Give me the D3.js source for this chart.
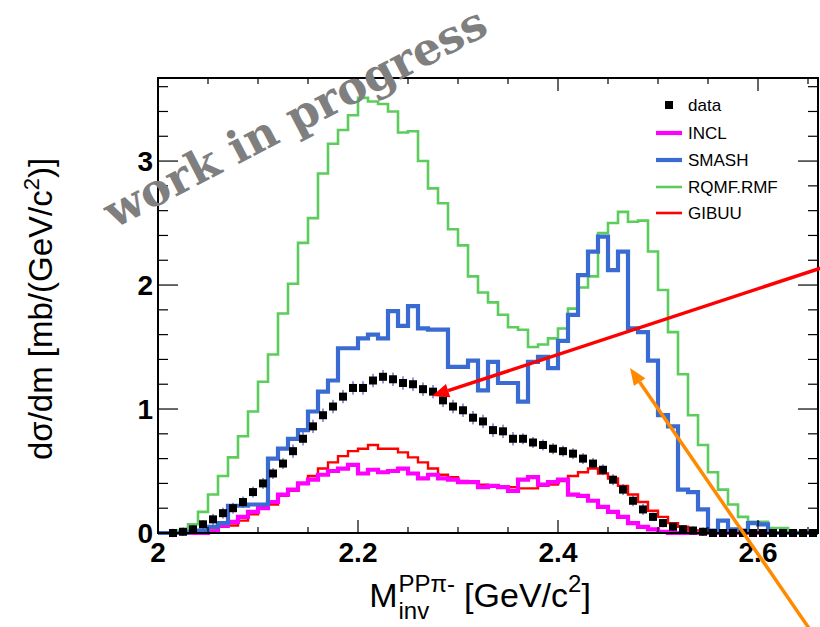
<!DOCTYPE html>
<html><head><meta charset="utf-8">
<script src="https://cdn.jsdelivr.net/npm/d3@7"></script>
<style>html,body{margin:0;padding:0;background:#fff;} svg{display:block;}</style>
</head><body><svg id="c" width="820" height="627"></svg>
<script>
// ---------- data (bins of 0.01 GeV/c^2 from 2.00 to 2.66) ----------
const xMin = 2.00, xMax = 2.66, binWidth = 0.01;
const xTicks = [2, 2.2, 2.4, 2.6];
const xTickLabels = ["2", "2.2", "2.4", "2.6"];
const yTicks = [0, 1, 2, 3];
const yTickLabels = ["0", "1", "2", "3"];
const yMax = 3.67;

const dataVals = [null,0.00,0.01,0.03,0.07,0.11,0.16,0.20,0.25,0.33,
  0.40,0.48,0.56,0.66,0.76,0.86,0.95,1.02,1.10,1.17,
  1.17,1.23,1.26,1.24,1.21,1.20,1.16,1.14,1.07,1.02,
  0.99,0.93,0.90,0.83,0.82,0.76,0.76,0.73,0.71,0.68,
  0.66,0.64,0.60,0.56,0.51,0.43,0.35,0.26,0.19,0.13,
  0.08,0.05,0.03,0.02,0.01,0,0,0,0,0,
  0,0,0,0,0,0];
const dataErr = [0,0.01,0.01,0.01,0.01,0.02,0.02,0.02,0.02,0.02,
  0.02,0.02,0.02,0.03,0.03,0.03,0.03,0.03,0.03,0.03,
  0.03,0.03,0.03,0.03,0.03,0.03,0.03,0.03,0.03,0.03,
  0.03,0.03,0.03,0.03,0.03,0.03,0.02,0.02,0.02,0.02,
  0.02,0.02,0.02,0.02,0.02,0.02,0.02,0.02,0.02,0.01,
  0.01,0.01,0.01,0.01,0.01,0,0,0,0,0,
  0,0,0,0,0,0];
const incl = [0,0,0,0,0,0.01,0.06,0.09,0.13,0.17,
  0.20,0.25,0.31,0.35,0.40,0.43,0.47,0.50,0.52,0.55,
  0.48,0.51,0.49,0.50,0.52,0.48,0.44,0.47,0.44,0.43,
  0.41,0.41,0.37,0.38,0.37,0.34,0.43,0.45,0.39,0.41,
  0.43,0.31,0.30,0.26,0.21,0.17,0.13,0.08,0.05,0.03,
  0.01,0,0,0,0,0,0,0,0,0,
  0,0,0,0,0,0];
const smash = [0,0,0,0.01,0.02,0.05,0.08,0.22,0.22,0.23,
  0.23,0.60,0.68,0.76,0.83,0.98,1.14,1.23,1.49,1.49,
  1.57,1.60,1.57,1.79,1.67,1.83,1.65,1.64,1.64,1.34,
  1.34,1.39,1.15,1.38,1.21,1.21,1.06,1.38,1.42,1.33,
  1.55,1.76,2.08,2.27,2.39,2.12,2.27,1.65,1.62,1.39,
  0.95,0.86,0.35,0.33,0.19,0.02,0.10,0.03,0.02,0.08,
  0.07,0,0,0,0,0];
const rqmf = [0,0,0.02,0.07,0.17,0.31,0.46,0.61,0.78,0.98,
  1.22,1.44,1.77,2.01,2.34,2.54,2.90,3.14,3.25,3.37,
  3.51,3.48,3.46,3.40,3.23,3.24,3.00,2.78,2.66,2.45,
  2.32,2.07,1.94,1.86,1.76,1.66,1.64,1.50,1.52,1.57,
  1.65,1.81,1.98,2.07,2.42,2.50,2.59,2.51,2.52,2.27,
  1.96,1.62,1.28,0.95,0.71,0.49,0.35,0.23,0.13,0.09,
  0.09,0.04,0.04,0.01,0.01,0];
const gibuu = [0,0,0,0,0,0.02,0.05,0.06,0.10,0.15,
  0.22,0.23,0.30,0.34,0.40,0.46,0.52,0.57,0.62,0.66,
  0.68,0.71,0.68,0.68,0.65,0.61,0.57,0.52,0.47,0.45,
  0.42,0.41,0.39,0.38,0.37,0.37,0.36,0.36,0.38,0.39,
  0.42,0.46,0.49,0.52,0.48,0.44,0.38,0.31,0.25,0.18,
  0.13,0.08,0.05,0.02,0.01,0,0,0,0,0,
  0,0,0,0,0,0];

const legendLabels = ["data", "INCL", "SMASH", "RQMF.RMF", "GIBUU"];
// annotation arrows in data coordinates: [x0,y0] -> [x1,y1] (tip)
const arrows = [
  {from:[2.664, 2.14], to:[2.274, 1.105], color:"#ff0000"},
  {from:[2.652, -0.78], to:[2.472, 1.33], color:"#ff8a00"}
];

// ---------- layout ----------
const L = 158, R = 818, T = 78, B = 533;
const svg = d3.select("#c");
const x = d3.scaleLinear().domain([xMin, xMax]).range([L, R]);
const y = d3.scaleLinear().domain([0, yMax]).range([B, T]);
const nBins = incl.length;
const edges = d3.range(nBins + 1).map(i => xMin + i * binWidth);

svg.append("defs").append("clipPath").attr("id","fr")
  .append("rect").attr("x",L).attr("y",T-2).attr("width",R-L).attr("height",B-T+4);

const stepLine = d3.line().x(d => x(d[0])).y(d => y(d[1])).curve(d3.curveStepAfter);
function histPts(vals){
  const pts = vals.map((v,i) => [edges[i], v]);
  pts.push([edges[nBins], vals[nBins-1]]);
  return pts;
}
const series = [
  {vals: rqmf,  color:"#5ccc5c", w:2.6},
  {vals: gibuu, color:"#ff0000", w:2.4},
  {vals: incl,  color:"#ff00ff", w:4.2},
  {vals: smash, color:"#3a6bd2", w:4.2}
];
const gH = svg.append("g").attr("clip-path","url(#fr)");
series.forEach(s => {
  gH.append("path").attr("d", stepLine(histPts(s.vals)))
    .attr("fill","none").attr("stroke", s.color).attr("stroke-width", s.w)
    .attr("stroke-linejoin","miter").attr("stroke-linecap","square");
});

// data points
const pts = dataVals.map((v,i) => ({c: edges[i] + binWidth/2, v, e: dataErr[i]})).filter(d => d.v !== null);
const gD = svg.append("g");
gD.selectAll("line.err").data(pts).enter().append("line")
  .attr("x1", d => x(d.c)).attr("x2", d => x(d.c))
  .attr("y1", d => y(d.v + d.e) - 3).attr("y2", d => y(d.v - d.e) + 3)
  .attr("stroke","#3030b0").attr("stroke-width",1);
gD.selectAll("rect").data(pts).enter().append("rect")
  .attr("x", d => x(d.c) - 4).attr("y", d => y(d.v) - 4)
  .attr("width", 8).attr("height", 8).attr("fill","#000");

// ---------- frame & ticks ----------
svg.append("rect").attr("x",L).attr("y",T).attr("width",R-L).attr("height",B-T)
  .attr("fill","none").attr("stroke","#000").attr("stroke-width",2);

const xMinor = d3.range(0, 14).map(i => 2 + i*0.05).filter(v => v <= xMax + 1e-9);
const yMinor = d3.range(0, 19).map(i => i*0.2).filter(v => v <= yMax);
const isMajX = v => xTicks.some(t => Math.abs(t - v) < 1e-6);
const isMajY = v => yTicks.some(t => Math.abs(t - v) < 1e-6);
const gT = svg.append("g").attr("stroke","#000").attr("stroke-width",1.2);
xMinor.forEach(v => {
  const len = isMajX(v) ? 13 : 6;
  gT.append("line").attr("x1",x(v)).attr("x2",x(v)).attr("y1",B).attr("y2",B-len);
  gT.append("line").attr("x1",x(v)).attr("x2",x(v)).attr("y1",T).attr("y2",T+len);
});
yMinor.forEach(v => {
  const len = isMajY(v) ? 20 : 10;
  gT.append("line").attr("x1",L).attr("x2",L+len).attr("y1",y(v)).attr("y2",y(v));
  gT.append("line").attr("x1",R).attr("x2",R-len).attr("y1",y(v)).attr("y2",y(v));
});

// tick labels
const tf = "'Liberation Sans', Arial, Helvetica, sans-serif";
svg.append("g").selectAll("text").data(xTicks).enter().append("text")
  .attr("x", d => x(d)).attr("y", 562).attr("text-anchor","middle")
  .attr("font-family", tf).attr("font-weight","bold").attr("font-size",28)
  .text((d,i) => xTickLabels[i]);
svg.append("g").selectAll("text").data(yTicks).enter().append("text")
  .attr("x", 153).attr("y", d => y(d) + 10).attr("text-anchor","end")
  .attr("font-family", tf).attr("font-weight","bold").attr("font-size",28)
  .text((d,i) => yTickLabels[i]);

// axis titles
const yt = svg.append("text").attr("transform","translate(52,309) rotate(-90)")
  .attr("text-anchor","middle").attr("font-family", tf).attr("font-size",33);
yt.append("tspan").text("dσ/dm [mb/(GeV/c");
yt.append("tspan").attr("font-size",22).attr("dy",-13).text("2");
yt.append("tspan").attr("dy",13).text(")]");

const gx = svg.append("g");
const fsMain = 34, fsSmall = 24;
const tM = gx.append("text").attr("x",0).attr("y",0).attr("font-family",tf).attr("font-size",fsMain).text("M");
const wM = tM.node().getComputedTextLength();
const tSup = gx.append("text").attr("x",wM+1).attr("y",-15).attr("font-family",tf).attr("font-size",fsSmall).text("PPπ-");
const tSub = gx.append("text").attr("x",wM+1).attr("y",12).attr("font-family",tf).attr("font-size",fsSmall).text("inv");
const wS = Math.max(tSup.node().getComputedTextLength(), tSub.node().getComputedTextLength());
const tR = gx.append("text").attr("x", wM + 1 + wS + 9).attr("y",0).attr("font-family",tf).attr("font-size",fsMain);
tR.append("tspan").text("[GeV/c");
tR.append("tspan").attr("font-size",fsSmall).attr("dy",-15).text("2");
tR.append("tspan").attr("dy",15).text("]");
const bb = gx.node().getBBox();
gx.attr("transform", `translate(${480 - (bb.x + bb.width/2)},607)`);

// ---------- legend ----------
const lg = svg.append("g");
const legY = [105, 133, 160, 187, 213];
const legStyle = [null, {c:"#ff00ff", w:4.2}, {c:"#3a6bd2", w:4.2}, {c:"#5ccc5c", w:2.6}, {c:"#ff0000", w:2.6}];
legendLabels.forEach((lab, i) => {
  if (i === 0) {
    lg.append("rect").attr("x",665).attr("y",legY[i]-4).attr("width",8).attr("height",8).attr("fill","#000");
  } else {
    lg.append("line").attr("x1",656).attr("x2",682).attr("y1",legY[i]).attr("y2",legY[i])
      .attr("stroke",legStyle[i].c).attr("stroke-width",legStyle[i].w);
  }
  lg.append("text").attr("x",688).attr("y",legY[i]+6).attr("font-family",tf).attr("font-size",17).text(lab);
});

// ---------- watermark ----------
svg.append("text").attr("transform","translate(114,229) rotate(-27.5)")
  .attr("font-family","'DejaVu Serif', serif").attr("font-weight","bold").attr("font-size",45)
  .attr("fill","#7f7f7f").text("work in progress");

// ---------- arrows ----------
arrows.forEach(a => {
  const x0 = x(a.from[0]), y0 = y(a.from[1]), x1 = x(a.to[0]), y1 = y(a.to[1]);
  const ang = Math.atan2(y1 - y0, x1 - x0);
  const hl = 17, hw = 7;
  const bx = x1 - hl*Math.cos(ang), by = y1 - hl*Math.sin(ang);
  svg.append("line").attr("x1",x0).attr("y1",y0).attr("x2",bx).attr("y2",by)
    .attr("stroke",a.color).attr("stroke-width",3.5);
  const px = -Math.sin(ang), py = Math.cos(ang);
  svg.append("path").attr("d",`M${x1},${y1}L${bx+px*hw},${by+py*hw}L${bx-px*hw},${by-py*hw}Z`)
    .attr("fill",a.color);
});
</script></body></html>
